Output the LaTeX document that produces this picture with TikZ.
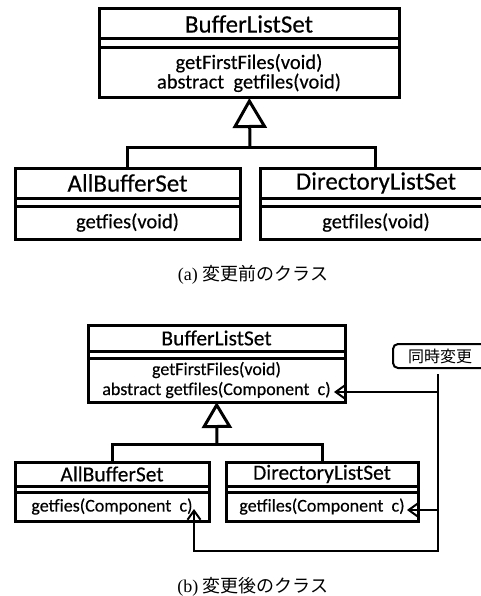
\documentclass[tikz,border=0pt]{standalone}
\usepackage{fontspec}
\setmainfont{Liberation Serif}
\newfontfamily\umlfont[FakeBold=0.3]{Carlito}
\newfontfamily\jpfont{Noto Sans CJK JP}
\usetikzlibrary{arrows.meta, positioning}

\begin{document}
\begin{tikzpicture}[
    x=1pt, y=-1pt,
    cls/.style={rectangle, draw, line width=3pt, outer sep=0pt, inner sep=0pt, align=center},
    namea/.style={cls, font=\umlfont\fontsize{25}{25}\selectfont},
    opsa/.style={cls, font=\umlfont\fontsize{20.5}{18}\selectfont},
    nameb/.style={cls, font=\umlfont\fontsize{21.5}{21.5}\selectfont},
    opsb/.style={cls, font=\umlfont\fontsize{18}{20}\selectfont},
    tree/.style={line width=3pt},
    inherita/.style={line width=3pt, -{Triangle[open, length=30pt, width=34pt]}},
    inheritb/.style={line width=3pt, -{Triangle[open, length=26pt, width=30pt]}},
    link/.style={line width=2pt, -{Straight Barb[length=9pt, width=13pt]}},
    note/.style={rectangle, draw, line width=2pt, rounded corners=5pt, anchor=west, text width=80pt, align=left, inner xsep=15pt, minimum height=24pt, font=\jpfont\fontsize{16}{16}\selectfont},
    caption/.style={font=\fontsize{18}{18}\selectfont}
]
    \useasboundingbox (0,0) rectangle (481,596);
    \clip (0,0) rectangle (481,596);

    % (a) before the change
    \node[namea, minimum width=300pt, minimum height=30pt] (bls1) at (249,24) {BufferListSet};
    \node[cls, minimum width=300pt, minimum height=9pt, below=0pt of bls1] (bls1attr) {};
    \node[opsa, minimum width=300pt, minimum height=50pt, below=0pt of bls1attr] (bls1ops) {getFirstFiles(void)\\abstract\ \ getfiles(void)};

    \node[namea, minimum width=225pt, minimum height=30pt] (abs1) at (127.5,183) {AllBufferSet};
    \node[cls, minimum width=225pt, minimum height=8pt, below=0pt of abs1] (abs1attr) {};
    \node[opsa, minimum width=225pt, minimum height=33pt, below=0pt of abs1attr] (abs1ops) {getfies(void)};

    \node[namea, minimum width=232pt, minimum height=30pt, anchor=west] (dls1) at (260,183) {DirectoryListSet};
    \node[cls, minimum width=232pt, minimum height=8pt, below=0pt of dls1] (dls1attr) {};
    \node[opsa, minimum width=232pt, minimum height=33pt, below=0pt of dls1attr] (dls1ops) {getfiles(void)};

    \coordinate (j1) at (250,148);
    \draw[inherita] (j1) -- (bls1ops);
    \draw[tree] (abs1.north) |- (j1) -| (375,168);

    \node[caption] (capa) at (253,275) {(a)\ {\jpfont 変更前のクラス}};

    % (b) after the change
    \node[nameb, minimum width=257pt, minimum height=26pt] (bls2) at (216.5,338) {BufferListSet};
    \node[cls, minimum width=257pt, minimum height=7pt, below=0pt of bls2] (bls2attr) {};
    \node[opsb, minimum width=257pt, minimum height=44pt, below=0pt of bls2attr] (bls2ops) {getFirstFiles(void)\\abstract getfiles(Component\ \ c)};

    \node[nameb, minimum width=194pt, minimum height=24pt] (abs2) at (112,474) {AllBufferSet};
    \node[cls, minimum width=194pt, minimum height=6pt, below=0pt of abs2] (abs2attr) {};
    \node[opsb, minimum width=194pt, minimum height=29pt, below=0pt of abs2attr] (abs2ops) {getfies(Component\ \ c)};

    \node[nameb, minimum width=192pt, minimum height=24pt] (dls2) at (322,474) {DirectoryListSet};
    \node[cls, minimum width=192pt, minimum height=6pt, below=0pt of dls2] (dls2attr) {};
    \node[opsb, minimum width=192pt, minimum height=29pt, below=0pt of dls2attr] (dls2ops) {getfiles(Component\ \ c)};

    \coordinate (j2) at (217,444);
    \draw[inheritb] (j2) -- (bls2ops);
    \draw[tree] (abs2.north) |- (j2) -| (dls2.north);

    \node[note] (sync) at (392,356) {同時変更};
    \coordinate (tipbls) at (334,392);
    \coordinate (tipdls) at (407,510);
    \coordinate (tipabs) at (194,509);
    \coordinate (bend) at (438,551);
    \draw[link, shorten <=5pt] (sync.south -| bend) -- (bend) -| (tipabs);
    \draw[link] (bend |- tipbls) -- (tipbls);
    \draw[link] (bend |- tipdls) -- (tipdls);

    \node[caption] (capb) at (253,587) {(b)\ {\jpfont 変更後のクラス}};
\end{tikzpicture}
\end{document}
